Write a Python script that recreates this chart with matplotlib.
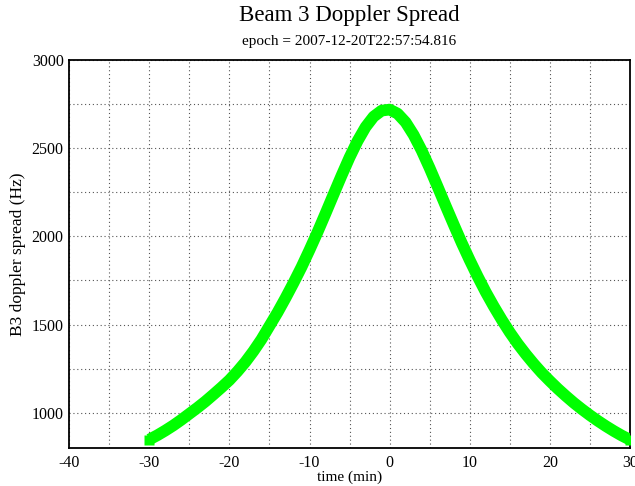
import matplotlib
matplotlib.use("Agg")
import matplotlib.pyplot as plt

# time (min) from -30 to 30 in 1-minute steps
time_min = list(range(-30, 31))
# B3 doppler spread (Hz)
doppler_hz = [
    848, 872, 899, 928, 960, 994, 1028, 1064, 1103, 1143,
    1185, 1234, 1288, 1349, 1416, 1492, 1568, 1650, 1736, 1826,
    1923, 2024, 2130, 2238, 2345, 2448, 2541, 2620, 2679, 2713,
    2719, 2696, 2647, 2575, 2487, 2387, 2281, 2173, 2067, 1963,
    1865, 1772, 1684, 1603, 1527, 1456, 1391, 1332, 1277, 1226,
    1180, 1136, 1095, 1056, 1020, 986, 954, 924, 896, 870,
    847,
]

title = "Beam 3 Doppler Spread"
subtitle = "epoch = 2007-12-20T22:57:54.816"
xlabel = "time (min)"
ylabel = "B3 doppler spread (Hz)"
xticks = [-40, -30, -20, -10, 0, 10, 20, 30]
yticks = [1000, 1500, 2000, 2500, 3000]

plt.rcParams['font.family'] = ['Liberation Serif', 'DejaVu Serif']

fig = plt.figure(figsize=(6.35, 4.86), dpi=100)
ax = fig.add_axes([0.109, 0.0782, 0.883, 0.7983])

ax.plot(time_min, doppler_hz, color='#00ff00', lw=8.4, solid_capstyle='butt',
        solid_joinstyle='round', zorder=3)
ax.plot([time_min[0], time_min[-1]], [doppler_hz[0], doppler_hz[-1]], ls='none',
        marker='s', ms=7.4, mfc='#00ff00', mec='none', zorder=3)

ax.set_xlim(-40, 30)
ax.set_ylim(800, 3000)
ax.set_xticks(xticks)
ax.set_yticks(yticks)
ax.set_xticks(range(-35, 30, 10), minor=True)
ax.set_yticks(range(1250, 3000, 500), minor=True)
ax.set_xticklabels([str(v) for v in xticks])
ax.tick_params(which='both', length=0, labelsize=11.5, pad=5)
ax.tick_params(axis='y', pad=4)
ax.grid(True, which='both', color='#555555', ls=(0, (1, 2.5)), lw=0.8, zorder=1)

for s in ax.spines.values():
    s.set_linewidth(1.3)
    s.set_color('black')

ax.set_xlabel(xlabel, fontsize=11, labelpad=0)
ax.set_ylabel(ylabel, fontsize=12.5, labelpad=4)

fig.text(0.5 * (0.109 + 0.992), 1 - 16 / 486, title, ha='center', va='center', fontsize=16.5)
fig.text(0.5 * (0.109 + 0.992), 1 - 41 / 486, subtitle, ha='center', va='center', fontsize=11)

fig.savefig("out.png", dpi=100)
